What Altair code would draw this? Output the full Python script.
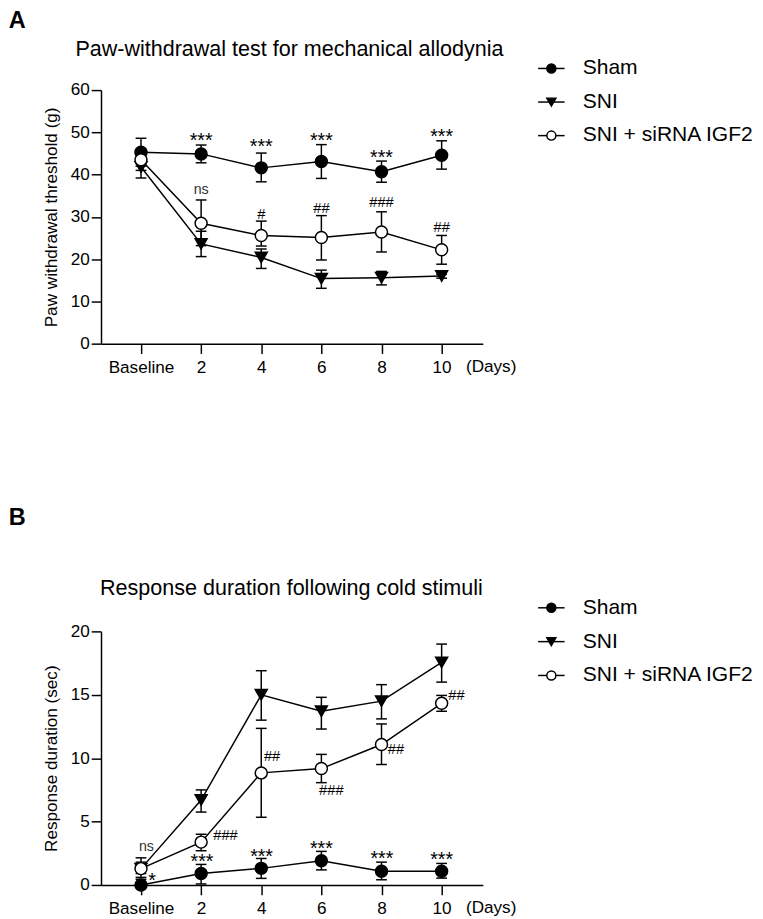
import altair as alt
import pandas as pd

FONT = "Liberation Sans"

series = ["Sham", "SNI", "SNI + siRNA IGF2"]
legend_row = [0, 1, 2]
days = [0, 2, 4, 6, 8, 10]

# ---------------- Panel A : paw-withdrawal threshold (g) ----------------
a_sham_mean = [45.3, 44.9, 41.6, 43.1, 40.7, 44.6]
a_sham_lo = [42.0, 42.8, 38.3, 39.1, 38.2, 41.3]
a_sham_hi = [48.6, 47.0, 45.1, 47.1, 43.2, 48.0]
a_sni_mean = [41.8, 23.6, 20.4, 15.4, 15.6, 16.0]
a_sni_lo = [39.2, 20.6, 17.8, 13.1, 13.9, 15.5]
a_sni_hi = [44.0, 26.6, 22.4, 17.4, 17.1, 16.4]
a_si_mean = [43.5, 28.5, 25.6, 25.1, 26.4, 22.2]
a_si_lo = [41.0, 23.2, 23.1, 19.8, 21.7, 18.8]
a_si_hi = [46.0, 34.0, 29.0, 30.3, 31.2, 25.6]

a_ann_text = ["***", "***", "***", "***", "***", "ns", "#", "##", "###", "##"]
a_ann_day = [2, 4, 6, 8, 10, 2, 4, 6, 8, 10]
a_ann_val = [48.9, 47.4, 48.9, 44.8, 49.7, 36.3, 30.6, 32.0, 33.5, 27.6]

# ---------------- Panel B : response duration (sec) ----------------
b_sham_mean = [0.0, 0.9, 1.31, 1.91, 1.08, 1.08]
b_sham_lo = [0.0, 0.08, 0.52, 1.19, 0.41, 0.54]
b_sham_hi = [0.45, 1.62, 2.09, 2.65, 1.8, 1.7]
b_sni_mean = [1.29, 6.7, 15.0, 13.7, 14.5, 17.55]
b_sni_lo = [0.6, 5.75, 13.0, 12.3, 13.1, 16.0]
b_sni_hi = [2.14, 7.5, 16.9, 14.8, 15.8, 19.0]
b_si_mean = [1.29, 3.38, 8.84, 9.18, 11.08, 14.33]
b_si_lo = [0.9, 2.7, 5.34, 8.07, 9.5, 13.7]
b_si_hi = [1.8, 4.0, 12.35, 10.3, 12.7, 14.95]

b_ann_text = ["ns", "*", "***", "***", "***", "***", "***", "###", "##", "###", "##", "##"]
b_ann_day = [0.18, 0.37, 2.03, 4.01, 6.0, 8.01, 10.0, 2.81, 4.36, 6.33, 8.48, 10.49]
b_ann_val = [2.96, 0.64, 2.09, 2.53, 3.17, 2.35, 2.27, 3.94, 10.18, 7.5, 10.7, 14.97]


def build_df(means, los, his):
    rows = []
    for s, m, lo, hi in zip(series, means, los, his):
        for d, mv, lv, hv in zip(days, m, lo, hi):
            rows.append({"series": s, "day": d, "mean": mv, "lo": lv, "hi": hv})
    return pd.DataFrame(rows)


df_a = build_df([a_sham_mean, a_sni_mean, a_si_mean],
                [a_sham_lo, a_sni_lo, a_si_lo],
                [a_sham_hi, a_sni_hi, a_si_hi])
df_b = build_df([b_sham_mean, b_sni_mean, b_si_mean],
                [b_sham_lo, b_sni_lo, b_si_lo],
                [b_sham_hi, b_sni_hi, b_si_hi])
ann_a = pd.DataFrame({"label": a_ann_text, "day": a_ann_day, "val": a_ann_val})
ann_b = pd.DataFrame({"label": b_ann_text, "day": b_ann_day, "val": b_ann_val})

W, H = 390, 259
XDOM = [-1.33, 11.37]

shape_scale = alt.Scale(domain=series, range=["circle", "triangle-down", "circle"])
fill_scale = alt.Scale(domain=series, range=["black", "black", "white"])

label_expr = "datum.value == 0 ? 'Baseline' : datum.value"


def text_layer(ann, ydom, kinds, size, dy, color="black"):
    sub = ann[ann["label"].isin(kinds)]
    return alt.Chart(sub).mark_text(
        font=FONT, fontSize=size, dy=dy, baseline="alphabetic", align="center", color=color
    ).encode(
        x=alt.X("day:Q", scale=alt.Scale(domain=XDOM, nice=False, zero=False)),
        y=alt.Y("val:Q", scale=alt.Scale(domain=ydom, nice=False)),
        text="label:N",
    )


def note(txt, x, y, size, weight="normal", align="center"):
    return alt.Chart(pd.DataFrame({"t": [txt]})).mark_text(
        font=FONT, fontSize=size, fontWeight=weight, align=align, baseline="middle",
        color="black").encode(text="t:N", x=alt.value(x), y=alt.value(y))


def make_panel(df, ann, title, title_x, title_y, ytitle, ydom, yticks, letter, letter_y,
               leg_range):
    xenc = alt.X(
        "day:Q",
        scale=alt.Scale(domain=XDOM, nice=False, zero=False),
        axis=alt.Axis(values=days, labelExpr=label_expr, title=None, tickSize=10,
                      labelPadding=5.5, labelFontSize=17.5, grid=False),
    )
    yenc_mean = alt.Y(
        "mean:Q",
        scale=alt.Scale(domain=ydom, nice=False),
        axis=alt.Axis(values=yticks, title=ytitle, tickSize=10, labelPadding=2,
                      labelFontSize=17.5, titleFontSize=17.5, titleFontWeight="normal",
                      titlePadding=10, grid=False),
    )
    base = alt.Chart(df)
    line = base.mark_line(color="black", strokeWidth=1.5).encode(
        x=xenc, y=yenc_mean, detail="series:N")
    err = base.mark_rule(color="black", strokeWidth=1.5).encode(
        x="day:Q", y="lo:Q", y2="hi:Q")
    cap_hi = base.mark_tick(orient="horizontal", size=11, thickness=1.5, color="black",
                            opacity=1).encode(x="day:Q", y="hi:Q")
    cap_lo = base.mark_tick(orient="horizontal", size=11, thickness=1.5, color="black",
                            opacity=1).encode(x="day:Q", y="lo:Q")
    pts = base.mark_point(size=150, stroke="black", strokeWidth=1.5, opacity=1,
                          filled=False).encode(
        x="day:Q", y="mean:Q",
        shape=alt.Shape("series:N", scale=shape_scale, legend=None),
        fill=alt.Fill("series:N", scale=fill_scale, legend=None),
    )
    stars = text_layer(ann, ydom, ["***", "*"], 20, 10)
    hashes = text_layer(ann, ydom, ["#", "##", "###"], 15, 5)
    ns = text_layer(ann, ydom, ["ns"], 14.5, 4, color="#333333")
    days_lbl = note("(Days)", 398.5, H + 24, 17.5)
    letter_lbl = note(letter, -85.5, letter_y, 24, weight="bold")
    title_lbl = note(title, title_x, title_y, 22)
    plot = alt.layer(line, err, cap_hi, cap_lo, pts, stars, hashes, ns,
                     days_lbl, letter_lbl, title_lbl).properties(width=W, height=H)

    leg_df = pd.DataFrame({"series": series, "row": legend_row})
    yleg = alt.Y("row:Q", scale=alt.Scale(domain=[0, 2], range=leg_range, nice=False,
                                          zero=False), axis=None)
    lb = alt.Chart(leg_df)
    leg_line = lb.mark_rule(color="black", strokeWidth=1.5).encode(
        x=alt.value(0), x2=alt.value(27), y=yleg)
    leg_pts = lb.mark_point(size=85, stroke="black", strokeWidth=1.5, opacity=1,
                            filled=False).encode(
        x=alt.value(13.5), y=yleg,
        shape=alt.Shape("series:N", scale=shape_scale, legend=None),
        fill=alt.Fill("series:N", scale=fill_scale, legend=None),
    )
    leg_txt = lb.mark_text(font=FONT, fontSize=21.5, align="left", baseline="middle",
                           color="black").encode(
        x=alt.value(45.5), y=yleg, text="series:N")
    legend = alt.layer(leg_line, leg_pts, leg_txt).properties(width=170, height=60)
    return alt.hconcat(plot, legend, spacing=19.5)


panel_a = make_panel(df_a, ann_a, "Paw-withdrawal test for mechanical allodynia", 192.5, -42,
                     "Paw withdrawal threshold (g)", [0, 60], [0, 10, 20, 30, 40, 50, 60],
                     "A", -70, [-22.1, 46.5])
panel_b = make_panel(df_b, ann_b, "Response duration following cold stimuli", 194.5, -44,
                     "Response duration (sec)", [0, 20], [0, 5, 10, 15, 20],
                     "B", -116, [-24.1, 45.0])

chart = alt.vconcat(panel_a, panel_b, spacing=130.9).properties(
    padding={"left": 0, "top": -9, "right": 0, "bottom": 0}).configure_view(
    stroke="transparent").configure_axis(
    domainColor="black", domainWidth=1.5, tickColor="black", tickWidth=1.5,
    labelColor="black", titleColor="black", labelFont=FONT, titleFont=FONT,
).configure_text(font=FONT)

chart.save("out.html", embed_options={"renderer": "svg", "actions": False})
